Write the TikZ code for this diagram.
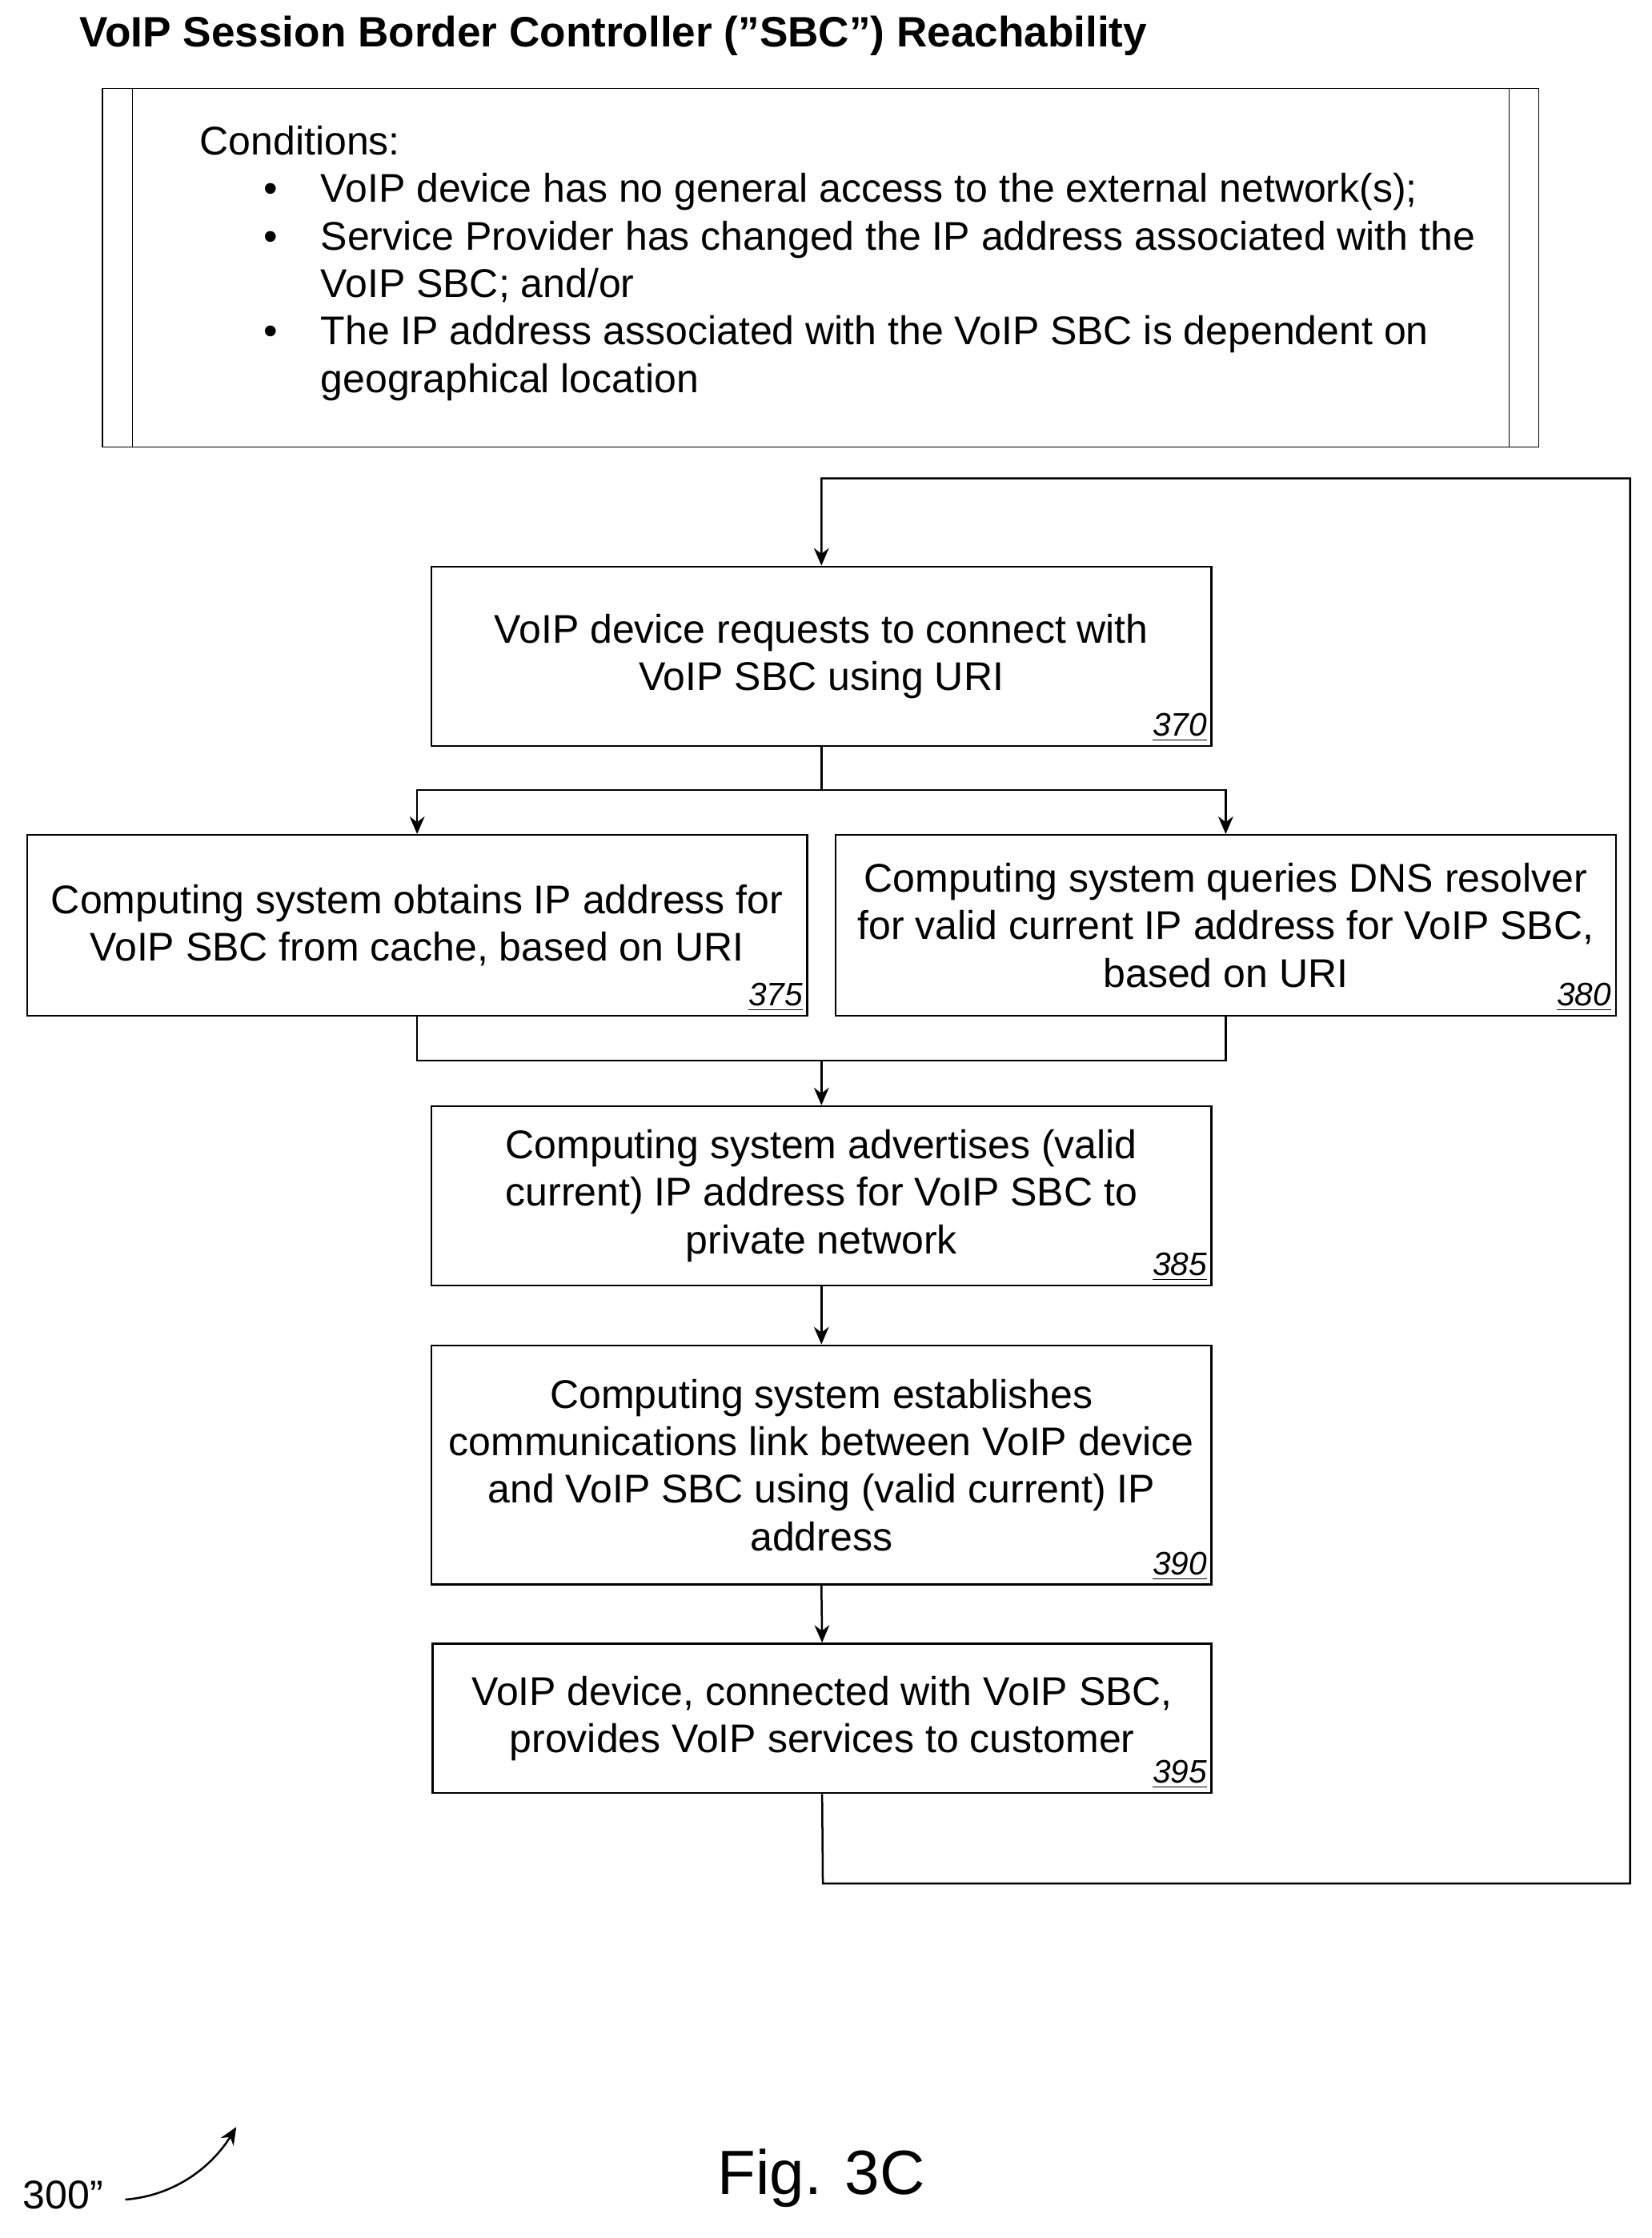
\documentclass[tikz,border=0pt]{standalone}
\usepackage{fontspec}
\setmainfont{Liberation Sans}
\usetikzlibrary{positioning,arrows.meta}
\newcommand{\bul}{\llap{\textbullet\hspace{0.6cm}}}

\begin{document}
\begin{tikzpicture}[x=0.02cm,y=-0.02cm,
    font=\fontsize{16}{19}\selectfont,
    >={Stealth[length=7pt,width=6pt]}]

        \tikzstyle{sbcbox}=[draw,thick,align=center,inner sep=0pt]
        \tikzstyle{tag}=[font=\fontsize{13}{15}\selectfont\itshape,anchor=south east,inner sep=2pt]
        \tikzstyle{flow}=[thick]

        \useasboundingbox (0,0) rectangle (1160,1572);

        %% Title and conditions
        \node[anchor=west,font=\fontsize{17}{20}\selectfont\bfseries] (title) at (50,25)
            {VoIP Session Border Controller (\char34 SBC\char34) Reachability};
        \draw (72,62) rectangle (1081,314);
        \draw (93,62) -- (93,314) (1060,62) -- (1060,314);
        \node[anchor=north west,align=left,inner sep=0pt] (condlist) at (140,88)
            {Conditions:\\
             \hspace{1.7cm}\bul VoIP device has no general access to the external network(s);\\
             \hspace{1.7cm}\bul Service Provider has changed the IP address associated with the\\
             \hspace{1.7cm}VoIP SBC; and/or\\
             \hspace{1.7cm}\bul The IP address associated with the VoIP SBC is dependent on\\
             \hspace{1.7cm}geographical location};

        %% Steps
        \node[sbcbox,minimum width=548*0.02cm,minimum height=126*0.02cm] (s370) at (577,461)
            {VoIP device requests to connect with\\ VoIP SBC using URI};
        \node[tag] at (s370.south east) {\underline{370}};
        \node[sbcbox,minimum width=548*0.02cm,minimum height=127*0.02cm] (s375) at (293,650)
            {Computing system obtains IP address for\\ VoIP SBC from cache, based on URI};
        \node[tag] at (s375.south east) {\underline{375}};
        \node[sbcbox,minimum width=548*0.02cm,minimum height=127*0.02cm] (s380) at (861,650)
            {Computing system queries DNS resolver\\ for valid current IP address for VoIP SBC,\\ based on URI};
        \node[tag] at (s380.south east) {\underline{380}};
        \node[sbcbox,minimum width=548*0.02cm,minimum height=126*0.02cm] (s385) at (577,840)
            {Computing system advertises (valid\\ current) IP address for VoIP SBC to\\ private network};
        \node[tag] at (s385.south east) {\underline{385}};
        \node[sbcbox,minimum width=548*0.02cm,minimum height=168*0.02cm] (s390) at (577,1029)
            {Computing system establishes\\ communications link between VoIP device\\ and VoIP SBC using (valid current) IP\\ address};
        \node[tag] at (s390.south east) {\underline{390}};
        \node[sbcbox,minimum width=547*0.02cm,minimum height=105*0.02cm] (s395) at (577.5,1207)
            {VoIP device, connected with VoIP SBC,\\ provides VoIP services to customer};
        \node[tag] at (s395.south east) {\underline{395}};

        %% Connectors
        \coordinate (split) at (577,555);
        \coordinate (merge) at (577,745);
        \draw[flow] (s370.south) -- (split);
        \draw[flow,->] (split) -| (s375.north);
        \draw[flow,->] (split) -| (s380.north);
        \draw[flow] (s375.south) |- (merge);
        \draw[flow] (s380.south) |- (merge);
        \draw[flow,->] (merge) -- (s385.north);
        \draw[flow,->] (s385.south) -- (s390.north);
        \draw[flow,->] (s390.south) -- (s395.north);
        \coordinate (loopa) at (578,1323);
        \coordinate (loopb) at (1145,336);
        \draw[flow,->] (s395.south) -- (loopa) -| (loopb) -| (s370.north);

        %% Figure label
        \node[font=\fontsize{25}{30}\selectfont] (fig) at (577,1530) {Fig. 3C};
        \node[anchor=west,font=\fontsize{16}{20}\selectfont] (ref) at (10,1542) {300\char39\char39};
        \draw[thick,->] (88,1545) .. controls (125,1542) and (150,1520) .. (166,1494);

\end{tikzpicture}
\end{document}
